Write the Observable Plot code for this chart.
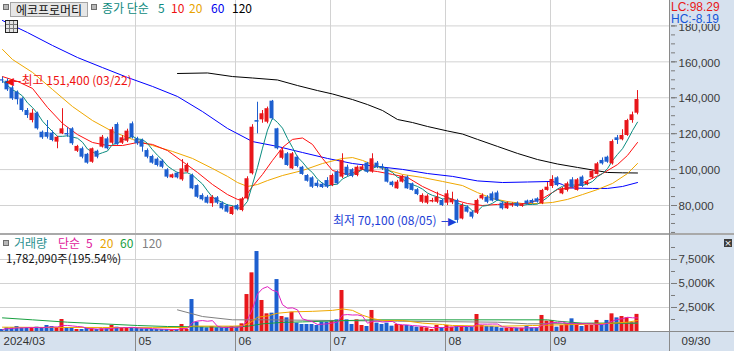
<!DOCTYPE html>
<html><head><meta charset="utf-8">
<script src="https://cdn.jsdelivr.net/npm/d3@7"></script>
<script src="https://cdn.jsdelivr.net/npm/@observablehq/plot@0.6"></script>
<style>
html,body{margin:0;padding:0;background:#fff;}
#wrap{position:relative;width:734px;height:351px;overflow:hidden;background:#fff;}
.abs{position:absolute;white-space:nowrap;line-height:1;}
.k{font-family:"Noto Sans CJK KR",sans-serif;font-size:12px;line-height:12px;}
.n{font-family:"Liberation Sans",sans-serif;font-size:12px;line-height:12px;}
#pricePanel,#volPanel,#bandPanel{position:absolute;left:0;}
#pricePanel{top:0}#volPanel{top:234px}#bandPanel{top:332px}
.sq{position:absolute;width:4px;height:4px;border:1px solid #6e6e6e;background:#b8b8b8;}
</style></head><body>
<div id="wrap">
  <div class="abs" style="left:670px;top:0;width:64px;height:332px;background:#d6e1ee"></div>
  <div id="pricePanel"></div>
  <div id="volPanel"></div>
  <div id="bandPanel"></div>
  <div class="abs" style="left:0;top:233px;width:734px;height:2px;background:#a9a9a9"></div>
  <div class="abs" style="left:0;top:331px;width:734px;height:1px;background:#8a8a8a"></div>
  <div class="abs" style="left:669px;top:0;width:1px;height:351px;background:#8a8a8a"></div>

  <!-- price legend -->
  <div class="sq" style="left:3px;top:4px"></div>
  <div class="abs k" style="left:10px;top:2px;width:76px;height:13px;background:#e6e6e6;border:1px solid #a4a4a4;text-align:center;line-height:13px;color:#111">에코프로머티</div>
  <div class="sq" style="left:91px;top:4px"></div>
  <div class="abs k" style="left:102px;top:2px;color:#0e8a80">종가 단순</div>
  <div class="abs k" style="left:158px;top:2px;color:#0e8a80">5</div>
  <div class="abs k" style="left:171px;top:2px;color:#ee1111">10</div>
  <div class="abs k" style="left:189px;top:2px;color:#e8a400">20</div>
  <div class="abs k" style="left:211px;top:2px;color:#0000ee">60</div>
  <div class="abs k" style="left:232px;top:2px;color:#000">120</div>
  <div class="abs" style="left:5px;top:20px;width:11px;height:11px;border:1px solid #222;background:
    linear-gradient(#777,#777) 0 3px/100% 1px no-repeat,
    linear-gradient(#777,#777) 0 7px/100% 1px no-repeat,
    linear-gradient(#777,#777) 3px 0/1px 100% no-repeat,
    linear-gradient(#777,#777) 7px 0/1px 100% no-repeat,#e4e4e4"></div>

  <div class="abs" style="left:670px;top:0;width:64px;height:24px;background:#d6e1ee"></div>
  <div id="lcText" class="abs n" style="left:671px;top:1px;color:#e81818"></div>
  <div id="hcText" class="abs n" style="left:671px;top:13px;color:#1455d8"></div>

  <!-- volume legend -->
  <div class="sq" style="left:3px;top:240px"></div>
  <div class="abs k" style="left:14px;top:237px;color:#2a9090">거래량</div>
  <div class="abs k" style="left:58px;top:237px;color:#e0209c">단순</div>
  <div class="abs k" style="left:86px;top:237px;color:#e0209c">5</div>
  <div class="abs k" style="left:100px;top:237px;color:#e8a400">20</div>
  <div class="abs k" style="left:120px;top:237px;color:#18a040">60</div>
  <div class="abs k" style="left:142px;top:237px;color:#808080">120</div>
  <div id="volText" class="abs k" style="left:6px;top:252px;color:#111;font-size:11.5px"></div>
  <div class="abs" style="left:724px;top:239px;width:8px;height:8px;background:#3c3c3c;color:#fff;font:9px 'DejaVu Sans';line-height:8px;text-align:center">×</div>
</div>
<script>
// ---------- data ----------
const dates = [
"03/22","03/25","03/26","03/27","03/28","03/29",
"04/01","04/02","04/03","04/04","04/05","04/08","04/09","04/11","04/12","04/15","04/16","04/17","04/18","04/19","04/22","04/23","04/24","04/25","04/26","04/29","04/30",
"05/02","05/03","05/07","05/08","05/09","05/10","05/13","05/14","05/16","05/17","05/20","05/21","05/22","05/23","05/24","05/27","05/28","05/29","05/30","05/31",
"06/03","06/04","06/05","06/07","06/10","06/11","06/12","06/13","06/14","06/17","06/18","06/19","06/20","06/21","06/24","06/25","06/26","06/27","06/28",
"07/01","07/02","07/03","07/04","07/05","07/08","07/09","07/10","07/11","07/12","07/15","07/16","07/17","07/18","07/19","07/22","07/23","07/24","07/25","07/26","07/29","07/30","07/31",
"08/01","08/02","08/05","08/06","08/07","08/08","08/09","08/12","08/13","08/14","08/16","08/19","08/20","08/21","08/22","08/23","08/26","08/27","08/28","08/29","08/30",
"09/02","09/03","09/04","09/05","09/06","09/09","09/10","09/11","09/12","09/13","09/19","09/20","09/23","09/24","09/25","09/26","09/27","09/30"];

const openP = [
150000,149200,145500,143100,139400,132900,
127300,131400,120800,120600,120300,115300,119900,120100,122700,110200,111600,108500,104100,110200,112500,117100,114700,125100,114700,115800,125500,
117100,116200,110600,107300,105800,104700,99900,95400,98000,94300,98600,96700,91100,85600,84600,81000,84300,81300,80000,75000,
80000,77200,83700,97700,127300,127700,126400,138100,122700,106300,108800,100400,106900,101300,96700,95400,92400,91800,93900,
91100,98600,95800,101300,99900,96700,99800,103600,98600,103600,101700,100400,93000,89300,93000,95800,92100,88800,81800,81300,82000,81800,82800,
81300,81500,82800,72500,79100,76300,75700,83700,84600,86500,87000,81300,78200,79800,81300,79500,82500,82800,83700,81000,88400,
90600,95400,86500,88400,94300,88400,95800,91700,95400,97300,105100,106900,103200,117700,116600,119000,127300,131400];
const highP = [
151400,150500,146500,143800,140000,134000,
133500,132000,121500,127300,121500,118500,133900,123300,123300,113500,112500,109000,112000,110800,119000,118000,123500,126000,119000,122500,126500,
118000,117000,111500,108000,106500,105500,100500,97500,98500,105600,103500,97500,91500,86500,85500,85500,85000,82000,80500,79500,
80500,84500,96000,125000,137500,132900,134800,138500,123000,112300,109500,109500,107500,101800,97200,96000,93800,92500,95500,
97500,99300,108800,102500,100500,102000,102500,104000,108800,104500,103000,101000,93500,94000,96800,96500,92500,89500,86500,86000,84000,87400,83500,
88400,87400,83500,81000,79800,77000,83500,86500,85500,87500,88000,82000,82000,81500,82000,81000,83000,83500,84300,89000,92800,
96600,96000,90000,93000,95500,95000,96500,93800,99800,104000,106500,107500,116500,119000,122200,128000,132000,144000];
const lowP = [
148000,143500,138500,136000,132000,128500,
126000,122000,116800,117000,115500,111600,119500,118000,113500,109500,106000,103000,103500,106000,112000,111000,114000,113500,114000,115000,117000,
113500,109700,106000,103000,101500,100500,95000,95000,94800,93500,98000,88800,84000,82500,80800,79000,80500,77500,75800,74500,
77000,76500,83000,97000,119900,125800,125500,127500,111000,105500,101800,100000,101000,96800,93000,89500,89800,89500,89500,
90500,91500,95000,96000,95500,96000,99500,98000,98000,100500,99500,92500,90200,89000,92500,89000,88000,85500,81000,80500,81500,81000,79500,
80000,80500,70100,72000,75800,72500,75000,83000,81000,82000,82300,77500,77800,79000,79000,79000,80300,80800,81300,80500,88000,
89500,90500,86000,87500,89500,88000,90000,91000,94800,97000,102500,103500,102500,114000,116000,118500,125800,130500];
const closeP = [
149300,144400,139400,138900,132900,130100,
131400,122700,117700,118000,116200,118000,122700,119300,114400,112900,106900,103600,111600,106900,118000,111600,122200,113900,117700,121400,117700,
114400,112500,106900,103600,102300,101300,95800,97100,95400,100400,102300,89300,84600,83200,81300,84600,81300,78200,76300,79100,
77600,83700,94900,123600,126400,131100,133900,128300,111600,110500,102300,108800,101700,97300,93500,90200,90600,90000,90200,
96700,92100,105100,96700,96200,101300,101500,98600,106000,101300,100400,93000,91100,93000,96200,89300,88400,86100,85600,85200,82800,84600,80000,
86500,83500,71700,80000,76300,73500,82800,85600,81800,82500,82800,78200,81300,80800,79500,80500,80800,81300,81800,88400,90200,
94500,91100,89300,92100,89900,94300,90600,93000,99100,103200,103200,104100,115600,116200,119000,127300,130500,139000];
const volume = [
210000,380000,380000,520000,380000,380000,
380000,450000,380000,625000,520000,380000,1250000,380000,380000,210000,210000,380000,280000,210000,280000,280000,625000,450000,350000,350000,380000,
350000,280000,280000,210000,210000,210000,210000,175000,210000,730000,210000,3330000,970000,450000,380000,520000,380000,380000,450000,520000,
450000,800000,3850000,6110000,8330000,3230000,1840000,1910000,5410000,1560000,1420000,2010000,870000,730000,730000,730000,625000,970000,970000,
1150000,1215000,4270000,1215000,730000,1215000,625000,520000,2190000,870000,730000,870000,555000,730000,625000,625000,520000,450000,450000,380000,210000,625000,380000,
625000,450000,555000,555000,450000,450000,1770000,625000,520000,520000,450000,350000,350000,350000,350000,350000,520000,380000,380000,1670000,1080000,
1150000,450000,625000,800000,1320000,800000,520000,625000,625000,1150000,695000,1150000,1840000,1420000,1560000,1420000,911370,1782090];

// moving averages: [trading-day index, value]
const ma10 = [[0,151800],[3,149100],[6,145200],[9,134600],[12,125700],[15,119500],[18,115100],[21,113400],[24,113400],[27,115100],[30,114000],[33,110600],[36,104500],[39,98400],[42,91700],[45,86100],[47,83400],[48,82800],[50,90600],[52,97300],[54,105100],[56,112300],[58,116800],[60,117600],[62,114000],[64,106200],[66,99500],[69,97300],[72,100100],[75,98900],[78,97300],[81,95600],[84,90600],[87,86700],[90,83400],[93,81100],[96,80000],[99,80600],[102,80800],[105,81100],[108,83900],[111,88900],[114,90000],[117,93900],[120,97800],[123,102800],[125,107900],[127,115100]];
const ma20 = [[0,166900],[2,161300],[6,154100],[10,144600],[14,135100],[18,127300],[22,121200],[26,116800],[30,113400],[34,110100],[38,106200],[42,100600],[45,96200],[47,92800],[49,90600],[51,91700],[53,93900],[56,96700],[60,99500],[64,103400],[68,106200],[70,106700],[72,105100],[76,100600],[80,97300],[84,95600],[88,93400],[92,91100],[95,87200],[98,83900],[101,82200],[104,81100],[107,81100],[110,81700],[113,83400],[116,86100],[119,88900],[122,92300],[125,97800],[127,103400]];
const ma60 = [[0,183000],[5,176300],[10,169100],[15,162400],[20,156800],[25,151300],[30,146300],[35,140700],[40,132300],[45,122900],[50,115600],[55,112900],[60,109500],[65,106200],[70,103400],[75,101700],[80,100100],[85,97800],[90,96200],[95,93700],[100,92800],[105,93100],[110,93400],[112,91700],[113,89800],[118,89500],[121,89500],[124,90600],[127,92800]];
const ma120 = [[35,153500],[41,153800],[46,151800],[50,151000],[55,149900],[59,146800],[63,144000],[66,142100],[70,139000],[73,136200],[76,132900],[79,127900],[82,126200],[85,124000],[89,121500],[92,119800],[95,116800],[99,112900],[103,109000],[107,105600],[111,103100],[115,101200],[118,99800],[121,98400],[124,98200],[127,98100]];
const volMa20 = [[0,450000],[10,420000],[20,420000],[30,400000],[37,420000],[38,560000],[46,560000],[48,600000],[49,780000],[50,1080000],[51,1480000],[53,1620000],[55,1900000],[58,2050000],[62,2100000],[66,2200000],[68,2350000],[70,2200000],[72,1700000],[74,1350000],[76,1150000],[80,1150000],[84,870000],[88,730000],[90,625000],[100,555000],[106,625000],[112,695000],[118,765000],[122,870000],[125,970000],[127,1145000]];
const volMa60 = [[0,1420000],[6,1215000],[13,970000],[27,625000],[33,520000],[46,450000],[49,550000],[52,800000],[56,950000],[60,1000000],[66,1100000],[74,1215000],[94,1215000],[109,1215000],[111,1075000],[116,870000],[127,870000]];
const volMa120 = [[35,2255000],[40,1560000],[46,1215000],[53,1215000],[66,1145000],[79,1075000],[99,970000],[105,800000],[127,870000]];

const priceMajor = [80000,100000,120000,140000,160000,180000];
const priceMinor = d3.range(65000, 195000, 5000);
const volMajor = [2500000,5000000,7500000];
const volMinor = [1250000,3750000,6250000,8750000];
const firstLabel = "2024/03";
const monthLabels = ["05","06","07","08","09"];

// ---------- styling ----------
const RED = "#e8161b", BLUE = "#1d5fcf";
const GRID = "#d2d2d2", AXIS = "#7a7a7a";
const xDomain = [-0.4, 133.6];

const candles = dates.map((date, i) => ({i, date, open: openP[i], high: highP[i], low: lowP[i], close: closeP[i], volume: volume[i]}));
const candleColor = d => d.close >= d.open ? RED : BLUE;
const N = candles.length;
const monthTicks = monthLabels.map(m => ({label: m, i: candles.find(d => d.date.startsWith(m + "/")).i}));
const bandTicks = [{label: firstLabel, i: 0}, ...monthTicks];
const fmt = d3.format(",");
const hi = d3.greatest(candles, d => d.high);
const lo = d3.least(candles, d => d.low);
const last = candles[N - 1];
const ln = (data, color) => Plot.line(data, {x: d => d[0], y: d => d[1], stroke: color, strokeWidth: 1});

const price = Plot.plot({
  width: 734, height: 234, marginLeft: 0, marginRight: 64, marginTop: 0, marginBottom: 0,
  style: {background: "transparent", overflow: "visible", fontFamily: "Liberation Sans", fontSize: "11.5px"},
  x: {domain: xDomain, axis: null, label: null},
  y: {domain: [63860, 194150], axis: null, label: null},
  color: {type: "identity"},
  marks: [
    Plot.ruleY(priceMajor, {stroke: GRID}),
    Plot.ruleX(monthTicks, {x: d => d.i - 0.4, stroke: GRID}),
    ln(ma120, "#000000"),
    ln(ma60, "#0000ff"),
    ln(ma20, "#f0a800"),
    ln(ma10, "#ff1010"),
    Plot.lineY(candles, Plot.windowY({k: 5, anchor: "end"}, {x: "i", y: "close", stroke: "#0a8c80", strokeWidth: 1})),
    Plot.ruleX(candles, {x: "i", y1: "low", y2: "high", stroke: candleColor}),
    Plot.rect(candles, {x1: d => d.i - 0.4, x2: d => d.i + 0.4, y1: "open", y2: "close", fill: candleColor, dx: -0.5}),
    Plot.text([hi], {x: "i", y: "high", text: d => `최고 ${fmt(d.high)} (${d.date})`, textAnchor: "start", dx: 19, dy: 4, fill: "#ee1111", fontSize: 12, fontFamily: "Noto Sans CJK KR"}),
    Plot.text([hi], {x: "i", y: "high", text: () => "◀─", textAnchor: "start", dx: 3, dy: 4, fill: "#ee1111", fontSize: 11, fontFamily: "DejaVu Sans"}),
    Plot.text([lo], {x: "i", y: "low", text: d => `최저 ${fmt(d.low)} (${d.date})`, textAnchor: "end", dx: -21, dy: -2, fill: "#1c3ed6", fontSize: 12, fontFamily: "Noto Sans CJK KR"}),
    Plot.text([lo], {x: "i", y: "low", text: () => "─▶", textAnchor: "end", dx: -1, dy: -2, fill: "#1c3ed6", fontSize: 11, fontFamily: "DejaVu Sans"}),
    Plot.axisY({anchor: "right", ticks: priceMinor, tickSize: 4, tickFormat: () => "", stroke: AXIS, label: null}),
    Plot.axisY({anchor: "right", ticks: priceMajor, tickSize: 6, tickFormat: () => "", stroke: AXIS, label: null}),
    Plot.axisY({anchor: "right", ticks: priceMajor, tickSize: 0, tickPadding: 8, tickFormat: fmt, fill: "#3a3a3a", label: null, dy: 1})
  ]
});
document.getElementById("pricePanel").append(price);

const vol = Plot.plot({
  width: 734, height: 97, marginLeft: 0, marginRight: 64, marginTop: 0, marginBottom: 0,
  style: {background: "transparent", overflow: "visible", fontFamily: "Liberation Sans", fontSize: "11.5px"},
  x: {domain: xDomain, axis: null, label: null},
  y: {domain: [0, 10104000], axis: null, label: null},
  color: {type: "identity"},
  marks: [
    Plot.ruleY(volMajor, {stroke: GRID}),
    Plot.ruleX(monthTicks, {x: d => d.i - 0.4, stroke: GRID}),
    Plot.rect(candles, {x1: d => d.i - 0.4, x2: d => d.i + 0.4, y1: 0, y2: "volume", fill: candleColor, dx: -0.5}),
    ln(volMa120, "#808080"),
    ln(volMa60, "#18a040"),
    ln(volMa20, "#f0a800"),
    Plot.lineY(candles, Plot.windowY({k: 5, anchor: "end"}, {x: "i", y: "volume", stroke: "#e020c0", strokeWidth: 1})),
    Plot.axisY({anchor: "right", ticks: volMinor, tickSize: 4, tickFormat: () => "", stroke: AXIS, label: null}),
    Plot.axisY({anchor: "right", ticks: volMajor, tickSize: 6, tickFormat: () => "", stroke: AXIS, label: null}),
    Plot.axisY({anchor: "right", ticks: volMajor, tickSize: 0, tickPadding: 8, tickFormat: d => fmt(d / 1000) + "K", fill: "#3a3a3a", label: null})
  ]
});
document.getElementById("volPanel").append(vol);

const band = Plot.plot({
  width: 734, height: 19, marginLeft: 0, marginRight: 64, marginTop: 0, marginBottom: 0,
  style: {background: "#d6e1ee", overflow: "visible", fontFamily: "Liberation Sans", fontSize: "11.5px"},
  x: {domain: xDomain, axis: null, label: null},
  marks: [
    Plot.ruleX(monthTicks, {x: d => d.i - 0.4, stroke: "#8a8a8a"}),
    Plot.text(bandTicks, {x: d => d.i - 0.4, text: "label", textAnchor: "start", dx: 3, dy: -1, frameAnchor: "middle", fill: "#333"}),
    Plot.text([last], {text: d => d.date, frameAnchor: "right", textAnchor: "start", dx: 11, dy: -1, fill: "#333"})
  ]
});
document.getElementById("bandPanel").append(band);

// header texts derived from data
const lc = (last.close - lo.low) / lo.low * 100;
const hc = (last.close - hi.high) / hi.high * 100;
document.getElementById("lcText").textContent = "LC:" + lc.toFixed(2);
document.getElementById("hcText").textContent = "HC:" + hc.toFixed(2);
const prev = candles[N - 2];
document.getElementById("volText").textContent = fmt(last.volume) + "주(" + (last.volume / prev.volume * 100).toFixed(2) + "%)";
</script>
</body></html>
